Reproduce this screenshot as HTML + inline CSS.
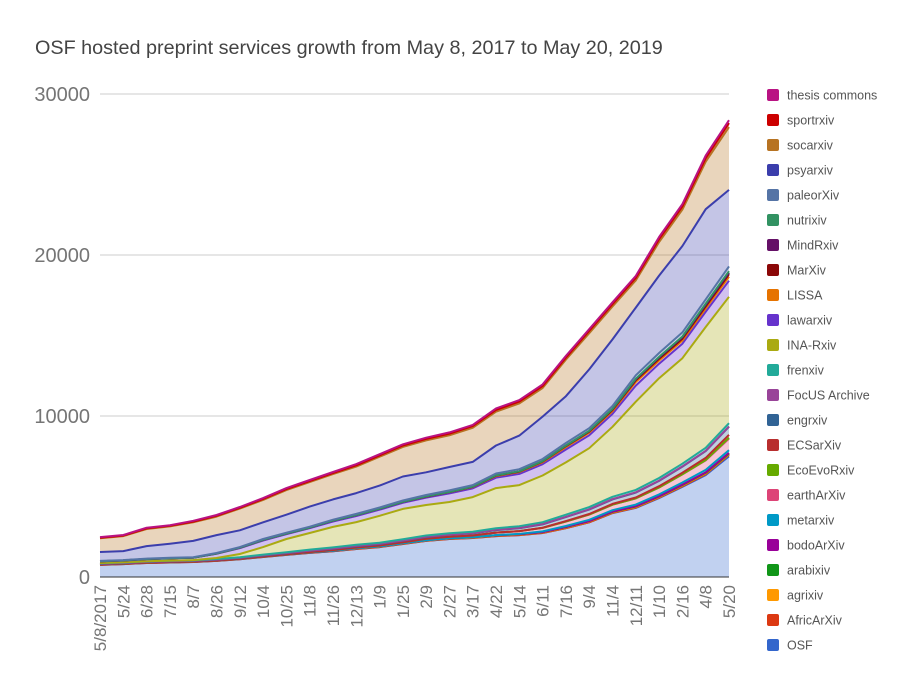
<!DOCTYPE html>
<html><head><meta charset="utf-8"><style>
body{margin:0;background:#fff;font-family:"Liberation Sans",Arial,sans-serif;}
#wrap{position:relative;width:912px;height:695px;overflow:hidden;}
</style></head><body>
<div id="wrap">
<svg id="chart" width="912" height="695" viewBox="0 0 912 695">
<text x="35" y="54" font-size="19.8" fill="#444">OSF hosted preprint services growth from May 8, 2017 to May 20, 2019</text>
<g id="grid"></g>
<g id="areas"></g>
<g id="lines"></g>
<g id="axes"></g>
<g id="legend"></g>
</svg>
</div>
<script>
const categories=["5/8/2017","5/24","6/28","7/15","8/7","8/26","9/12","10/4","10/25","11/8","11/26","12/13","1/9","1/25","2/9","2/27","3/17","4/22","5/14","6/11","7/16","9/4","11/4","12/11","1/10","2/16","4/8","5/20"];
const yTicks=[0,10000,20000,30000];
const seriesNames=["OSF","AfricArXiv","agrixiv","arabixiv","bodoArXiv","metarxiv","earthArXiv","EcoEvoRxiv","ECSarXiv","engrxiv","FocUS Archive","frenxiv","INA-Rxiv","lawarxiv","LISSA","MarXiv","MindRxiv","nutrixiv","paleorXiv","psyarxiv","socarxiv","sportrxiv","thesis commons"];
const seriesColors=["#3366cc","#dc3912","#ff9900","#109618","#990099","#0099c6","#dd4477","#66aa00","#b82e2e","#316395","#994499","#22aa99","#aaaa11","#6633cc","#e67300","#8b0707","#651067","#329262","#5574a6","#3b3eac","#b77322","#cc0000","#b91383"];
const osf=[750,800,870,900,930,1000,1100,1240,1370,1500,1600,1740,1860,2050,2240,2360,2420,2540,2600,2730,3040,3400,3970,4290,4900,5600,6330,7500];
const africarxiv=[0,0,0,0,0,0,0,0,0,0,0,0,0,0,0,0,0,0,0,0,0,0,10,20,30,40,60,90];
const agrixiv=[20,20,20,20,20,20,25,25,25,25,25,30,30,30,30,30,30,35,35,35,35,40,40,40,40,45,45,45];
const arabixiv=[0,0,0,0,0,0,0,0,0,0,10,10,10,15,15,15,20,20,20,20,25,25,25,30,30,30,35,35];
const bodoarxiv=[0,0,0,0,0,0,0,0,0,0,0,0,0,0,0,0,0,0,5,5,10,10,15,20,20,25,30,35];
const metarxiv=[0,0,0,0,0,0,0,0,0,0,0,0,0,0,0,0,0,10,20,40,60,80,90,100,110,130,150,170];
const eartharxiv=[0,0,0,0,0,0,5,10,20,30,40,50,55,65,85,95,110,150,170,220,280,320,340,380,430,500,590,720];
const ecoevorxiv=[0,0,0,0,0,0,0,0,0,0,0,0,0,0,0,0,0,0,0,0,0,0,0,0,0,10,30,60];
const ecsarxiv=[0,0,0,0,0,0,0,0,0,0,0,0,0,0,0,0,0,0,0,10,20,40,50,60,80,100,130,180];
const engrxiv=[40,40,40,45,45,50,50,55,60,70,80,85,90,95,110,120,130,160,175,210,250,270,280,300,330,370,420,500];
const focus=[10,10,10,10,10,10,15,15,15,15,15,15,15,15,15,15,15,15,20,20,20,20,20,20,20,20,20,20];
const frenxiv=[30,30,30,35,35,40,35,45,50,60,70,70,70,70,80,85,90,100,110,115,130,135,140,150,160,170,185,200];
const inarxiv=[20,10,10,10,10,60,200,470,820,1030,1270,1410,1670,1890,1900,1940,2150,2490,2550,2900,3250,3660,4350,5480,6200,6550,7500,7850];
const lawarxiv=[100,110,125,135,145,260,360,410,300,300,340,380,380,380,450,530,540,650,700,700,800,800,800,1000,900,900,950,1000];
const lissa=[10,10,10,10,10,20,30,40,40,40,50,60,60,60,70,80,80,100,110,120,150,160,170,230,200,200,210,250];
const marxiv=[0,0,0,0,0,0,0,0,0,0,0,0,0,0,0,0,10,20,30,40,60,70,80,100,110,120,130,150];
const mindrxiv=[0,0,0,0,0,0,0,0,0,0,0,0,0,0,10,10,15,20,20,25,30,35,40,50,60,70,80,90];
const nutrixiv=[0,0,0,0,0,0,0,0,0,0,0,0,0,0,0,0,0,0,0,0,0,10,20,40,50,60,80,100];
const paleorxiv=[20,20,25,25,25,30,40,50,50,55,60,70,75,80,90,100,100,120,130,140,160,170,180,220,240,250,270,300];
const psyarxiv=[550,560,780,880,1010,1110,1040,1040,1120,1250,1260,1290,1360,1490,1410,1450,1440,1740,2090,2630,2910,3650,4140,4200,4810,5370,5600,4750];
const socarxiv=[860,930,1060,1070,1160,1150,1350,1390,1530,1520,1570,1650,1800,1840,1980,1970,2120,2100,2000,1780,2270,2250,2040,1690,2090,2260,2950,3900];
const sportrxiv=[30,30,40,40,40,50,50,60,60,70,70,80,80,90,90,100,100,110,110,120,130,140,150,160,180,200,220,250];
const thesiscommons=[40,40,40,40,50,50,50,50,60,60,60,70,70,70,80,80,80,90,90,100,100,110,110,120,130,140,160,180];
const seriesData=[osf,africarxiv,agrixiv,arabixiv,bodoarxiv,metarxiv,eartharxiv,ecoevorxiv,ecsarxiv,engrxiv,focus,frenxiv,inarxiv,lawarxiv,lissa,marxiv,mindrxiv,nutrixiv,paleorxiv,psyarxiv,socarxiv,sportrxiv,thesiscommons];

const NS="http://www.w3.org/2000/svg";
const X0=100,X1=729,Y0=577,Y1=94,YMAX=30000;
const xScale=i=>X0+(X1-X0)*i/(categories.length-1);
const yScale=v=>Y0-(Y0-Y1)*v/YMAX;
function mk(tag,attrs,parent){const e=document.createElementNS(NS,tag);for(const k in attrs)e.setAttribute(k,attrs[k]);parent.appendChild(e);return e;}
const grid=document.getElementById('grid'),areas=document.getElementById('areas'),lines=document.getElementById('lines'),axes=document.getElementById('axes'),legend=document.getElementById('legend');

yTicks.forEach(t=>{
  if(t>0){const l=mk('line',{x1:X0,x2:X1,y1:yScale(t),y2:yScale(t),stroke:'#cccccc','stroke-width':1},grid);
  
  }
  const tx=mk('text',{x:90,y:yScale(t)+7,'text-anchor':'end','font-size':20,fill:'#757575'},axes);
  tx.textContent=t;
  
  
});

let base=categories.map(()=>0);
seriesData.forEach((s,k)=>{
  const top=base.map((b,i)=>b+s[i]);
  let d='M'+categories.map((c,i)=>xScale(i).toFixed(1)+','+yScale(top[i]).toFixed(1)).join('L');
  for(let i=categories.length-1;i>=0;i--)d+='L'+xScale(i).toFixed(1)+','+yScale(base[i]).toFixed(1);
  d+='Z';
  const a=mk('path',{d:d,fill:seriesColors[k],'fill-opacity':0.3,stroke:'none'},areas);
  
  
  const ln=mk('polyline',{points:categories.map((c,i)=>xScale(i).toFixed(1)+','+yScale(top[i]).toFixed(1)).join(' '),fill:'none',stroke:seriesColors[k],'stroke-width':2,'stroke-linejoin':'round'},lines);
  
  
  base=top;
});

const ax=mk('line',{x1:X0,x2:X1,y1:Y0,y2:Y0,stroke:'#333','stroke-width':1},axes);


categories.forEach((c,i)=>{
  const x=xScale(i);
  const t=mk('text',{x:0,y:0,'text-anchor':'end','font-size':17,fill:'#757575',transform:'translate('+(x+6)+',585) rotate(-90)'},axes);
  t.textContent=c;
  
  
});

for(let k=seriesNames.length-1,row=0;k>=0;k--,row++){
  const y=89+row*25;
  const g=mk('g',{},legend);
  
  
  mk('rect',{x:767,y:y,width:12,height:12,rx:2,fill:seriesColors[k]},g);
  const t=mk('text',{x:787,y:y+10.5,'font-size':12.5,fill:'#555'},g);
  t.textContent=seriesNames[k];
}
</script>
</body></html>
